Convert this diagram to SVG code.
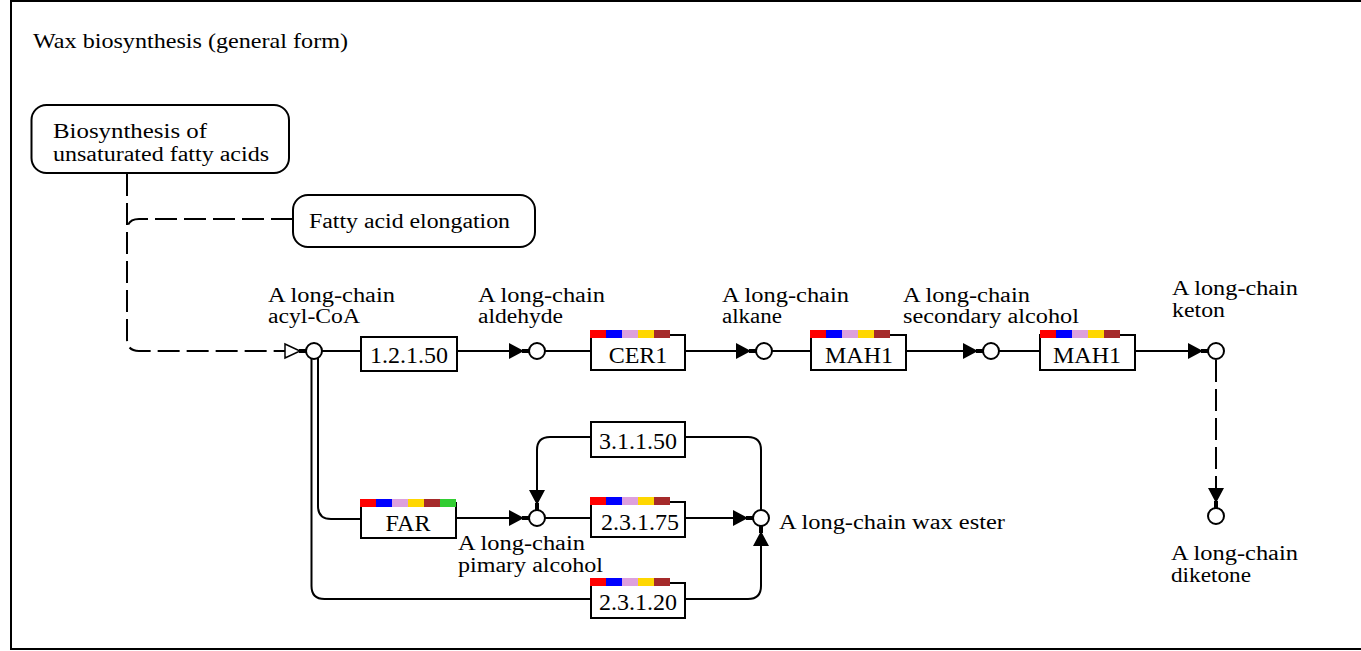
<svg xmlns="http://www.w3.org/2000/svg" width="1361" height="651" viewBox="0 0 1361 651">
<style>
text{font-family:"Liberation Serif","Times New Roman",Times,serif;fill:#000}
.t{font-size:22px}
.m{font-size:20px}
.lbl{font-size:20px}
.ec{font-size:24px;text-anchor:middle}
.box{fill:#fff;stroke:#000;stroke-width:2}
.cpd{fill:#fff;stroke:#000;stroke-width:2}
.ln{fill:none;stroke:#000;stroke-width:2}
.dash{stroke-dasharray:22 7}
.c1{fill:#ff0000}.c2{fill:#0000ff}.c3{fill:#dda0dd}.c4{fill:#ffd700}.c5{fill:#a52a2a}.c6{fill:#32cd32}
</style>
<defs>
<marker id="arr" markerUnits="userSpaceOnUse" viewBox="0 -9 20 18" refX="20" refY="0" markerWidth="20" markerHeight="18" orient="auto">
<path d="M0,-8 L15,0 L0,8 Z M13,-2 H20 V2 H13 Z" fill="#000"/>
</marker>
<marker id="harr" markerUnits="userSpaceOnUse" viewBox="0 -9 22 18" refX="22" refY="0" markerWidth="22" markerHeight="18" orient="auto">
<path d="M1,-7 L16,0 L1,7 Z" fill="#fff" stroke="#000" stroke-width="1.5"/>
<rect x="15" y="-2" width="7" height="4" fill="#000"/>
</marker>
</defs>
<rect width="1361" height="651" fill="#fff"/>
<path d="M1362,1 H11 V649 H1362" fill="none" stroke="#000" stroke-width="2"/>
<text id="title" class="t" x="33" y="48" textLength="315" lengthAdjust="spacingAndGlyphs">Wax biosynthesis (general form)</text>

<g id="connectors">
<path class="ln dash" d="M127,174 V339 Q127,351 139,351 H306" marker-end="url(#harr)"/>
<path class="ln dash" d="M293,219 H139 Q127,219 127,231"/>
<path class="ln" d="M322,351 H361"/>
<path class="ln" d="M457,351 H529" marker-end="url(#arr)"/>
<path class="ln" d="M545,351 H591"/>
<path class="ln" d="M685,351 H756" marker-end="url(#arr)"/>
<path class="ln" d="M772,351 H811"/>
<path class="ln" d="M906,351 H983" marker-end="url(#arr)"/>
<path class="ln" d="M999,351 H1040"/>
<path class="ln" d="M1135,351 H1208" marker-end="url(#arr)"/>
<path class="ln dash" d="M1216,360 V508" marker-end="url(#arr)"/>
<path class="ln" d="M318,358 V506 Q318,519 331,519 H361"/>
<path class="ln" d="M311.5,358 V586 Q311.5,599 324.5,599 H591"/>
<path class="ln" d="M456,518 H529" marker-end="url(#arr)"/>
<path class="ln" d="M545,518 H591"/>
<path class="ln" d="M685,518 H753" marker-end="url(#arr)"/>
<path class="ln" d="M591,437 H550 Q537,437 537,450 V510" marker-end="url(#arr)"/>
<path class="ln" d="M761,510 V450 Q761,437 748,437 H685"/>
<path class="ln" d="M685,599 H748 Q761,599 761,586 V526" marker-end="url(#arr)"/>
</g>

<g id="map_unsat">
<rect class="box" x="31.5" y="105" width="257.5" height="68" rx="15"/>
<text class="m" x="53" y="137.5" textLength="154" lengthAdjust="spacingAndGlyphs">Biosynthesis of</text>
<text class="m" x="53" y="161" textLength="216" lengthAdjust="spacingAndGlyphs">unsaturated fatty acids</text>
</g>
<g id="map_elong">
<rect class="box" x="293" y="195" width="242" height="52" rx="15"/>
<text class="m" x="309" y="228" textLength="201" lengthAdjust="spacingAndGlyphs">Fatty acid elongation</text>
</g>

<g id="cpd_acylcoa">
<circle class="cpd" cx="314" cy="351" r="8"/>
<text class="lbl" x="268" y="302" textLength="127" lengthAdjust="spacingAndGlyphs">A long-chain</text>
<text class="lbl" x="268" y="323" textLength="92" lengthAdjust="spacingAndGlyphs">acyl-CoA</text>
</g>
<g id="cpd_aldehyde">
<circle class="cpd" cx="537" cy="351" r="8"/>
<text class="lbl" x="478" y="302" textLength="127" lengthAdjust="spacingAndGlyphs">A long-chain</text>
<text class="lbl" x="478" y="323" textLength="85" lengthAdjust="spacingAndGlyphs">aldehyde</text>
</g>
<g id="cpd_alkane">
<circle class="cpd" cx="764" cy="351" r="8"/>
<text class="lbl" x="722" y="302" textLength="127" lengthAdjust="spacingAndGlyphs">A long-chain</text>
<text class="lbl" x="722" y="323" textLength="60" lengthAdjust="spacingAndGlyphs">alkane</text>
</g>
<g id="cpd_secalcohol">
<circle class="cpd" cx="991" cy="351" r="8"/>
<text class="lbl" x="903" y="302" textLength="127" lengthAdjust="spacingAndGlyphs">A long-chain</text>
<text class="lbl" x="903" y="323" textLength="176" lengthAdjust="spacingAndGlyphs">secondary alcohol</text>
</g>
<g id="cpd_keton">
<circle class="cpd" cx="1216" cy="351" r="8"/>
<text class="lbl" x="1172" y="295" textLength="126" lengthAdjust="spacingAndGlyphs">A long-chain</text>
<text class="lbl" x="1172" y="317" textLength="53" lengthAdjust="spacingAndGlyphs">keton</text>
</g>
<g id="cpd_diketone">
<circle class="cpd" cx="1216" cy="516" r="8"/>
<text class="lbl" x="1171" y="560" textLength="127" lengthAdjust="spacingAndGlyphs">A long-chain</text>
<text class="lbl" x="1171" y="582" textLength="80" lengthAdjust="spacingAndGlyphs">diketone</text>
</g>
<g id="cpd_primalcohol">
<circle class="cpd" cx="537" cy="518" r="8"/>
<text class="lbl" x="458" y="550" textLength="127" lengthAdjust="spacingAndGlyphs">A long-chain</text>
<text class="lbl" x="458" y="572" textLength="145" lengthAdjust="spacingAndGlyphs">pimary alcohol</text>
</g>
<g id="cpd_waxester">
<circle class="cpd" cx="761" cy="518" r="8"/>
<text class="lbl" x="779" y="529" textLength="226" lengthAdjust="spacingAndGlyphs">A long-chain wax ester</text>
</g>

<g id="ec_1.2.1.50">
<rect class="box" x="361" y="337" width="96" height="34"/>
<text class="ec" x="409" y="363">1.2.1.50</text>
</g>
<g id="ec_CER1">
<rect class="box" x="591" y="335" width="94" height="35"/>
<rect class="c1" x="590" y="330" width="16" height="8"/><rect class="c2" x="606" y="330" width="16" height="8"/><rect class="c3" x="622" y="330" width="16" height="8"/><rect class="c4" x="638" y="330" width="16" height="8"/><rect class="c5" x="654" y="330" width="16" height="8"/>
<text class="ec" x="638" y="363">CER1</text>
</g>
<g id="ec_MAH1_a">
<rect class="box" x="811" y="335" width="95" height="35"/>
<rect class="c1" x="810" y="330" width="16" height="8"/><rect class="c2" x="826" y="330" width="16" height="8"/><rect class="c3" x="842" y="330" width="16" height="8"/><rect class="c4" x="858" y="330" width="16" height="8"/><rect class="c5" x="874" y="330" width="16" height="8"/>
<text class="ec" x="859" y="363">MAH1</text>
</g>
<g id="ec_MAH1_b">
<rect class="box" x="1040" y="335" width="95" height="35"/>
<rect class="c1" x="1040" y="330" width="16" height="8"/><rect class="c2" x="1056" y="330" width="16" height="8"/><rect class="c3" x="1072" y="330" width="16" height="8"/><rect class="c4" x="1088" y="330" width="16" height="8"/><rect class="c5" x="1104" y="330" width="16" height="8"/>
<text class="ec" x="1087" y="363">MAH1</text>
</g>
<g id="ec_FAR">
<rect class="box" x="361" y="503" width="95" height="35"/>
<rect class="c1" x="360" y="499" width="16" height="8"/><rect class="c2" x="376" y="499" width="16" height="8"/><rect class="c3" x="392" y="499" width="16" height="8"/><rect class="c4" x="408" y="499" width="16" height="8"/><rect class="c5" x="424" y="499" width="16" height="8"/><rect class="c6" x="440" y="499" width="16" height="8"/>
<text class="ec" x="408" y="531">FAR</text>
</g>
<g id="ec_3.1.1.50">
<rect class="box" x="591" y="422" width="94" height="35"/>
<text class="ec" x="638" y="449">3.1.1.50</text>
</g>
<g id="ec_2.3.1.75">
<rect class="box" x="591" y="502" width="94" height="35"/>
<rect class="c1" x="590" y="497" width="16" height="8"/><rect class="c2" x="606" y="497" width="16" height="8"/><rect class="c3" x="622" y="497" width="16" height="8"/><rect class="c4" x="638" y="497" width="16" height="8"/><rect class="c5" x="654" y="497" width="16" height="8"/>
<text class="ec" x="640" y="530">2.3.1.75</text>
</g>
<g id="ec_2.3.1.20">
<rect class="box" x="591" y="583" width="94" height="35"/>
<rect class="c1" x="590" y="578" width="16" height="8"/><rect class="c2" x="606" y="578" width="16" height="8"/><rect class="c3" x="622" y="578" width="16" height="8"/><rect class="c4" x="638" y="578" width="16" height="8"/><rect class="c5" x="654" y="578" width="16" height="8"/>
<text class="ec" x="638" y="610">2.3.1.20</text>
</g>
</svg>
